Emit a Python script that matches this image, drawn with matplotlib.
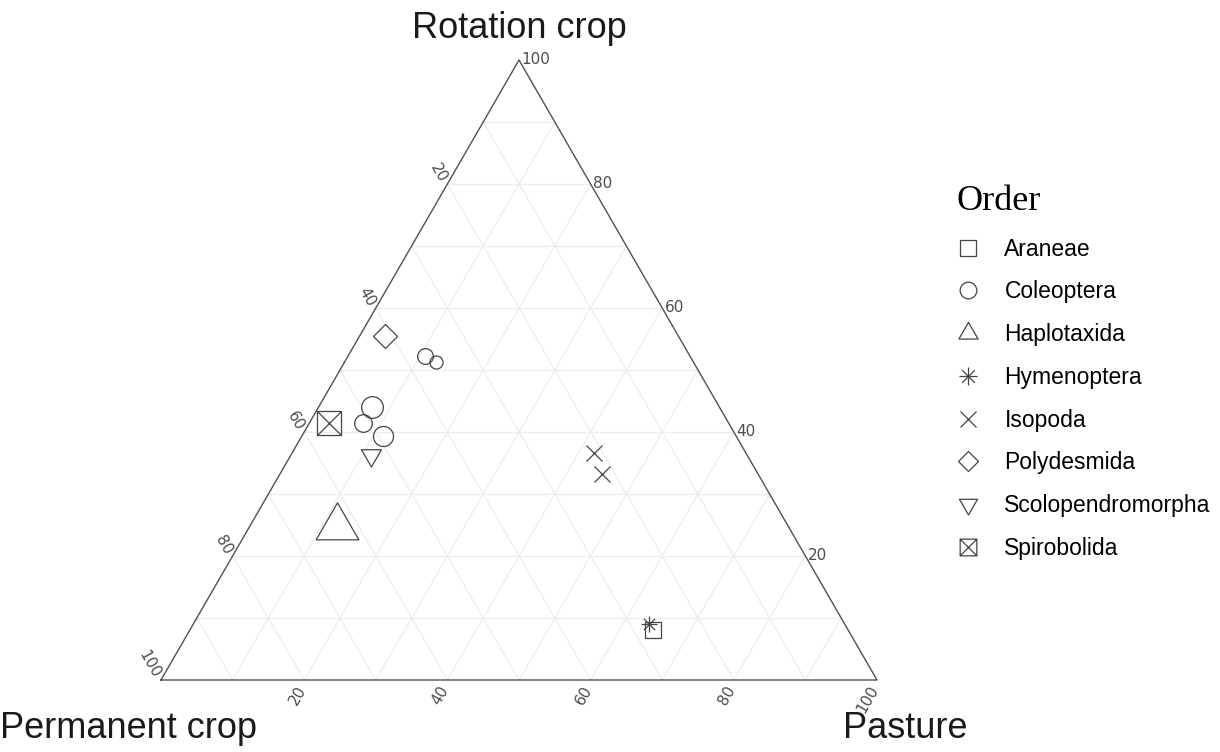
import numpy as np
import matplotlib
matplotlib.use("Agg")
import matplotlib.pyplot as plt
from matplotlib.path import Path
from matplotlib.lines import Line2D

# data: order of each point, rotation crop %, pasture % (permanent crop = rest)
orders = ["Araneae", "Coleoptera", "Haplotaxida", "Hymenoptera", "Isopoda",
          "Polydesmida", "Scolopendromorpha", "Spirobolida"]
point_order = ["Araneae", "Coleoptera", "Coleoptera", "Coleoptera", "Coleoptera",
               "Coleoptera", "Haplotaxida", "Hymenoptera", "Isopoda", "Isopoda",
               "Polydesmida", "Scolopendromorpha", "Spirobolida"]
rotation = [8.1, 52.2, 51.3, 44.1, 41.4, 39.3, 24.6, 9.0, 36.6, 33.3, 55.5, 36.3, 41.4]
pasture = [64.6, 10.8, 12.7, 7.4, 7.5, 11.3, 12.3, 63.7, 42.2, 45.0, 3.5, 11.2, 2.8]
# point size (pt)
marker_size = [11.3, 11.3, 9.4, 15.6, 12.7, 14.4, 35.5, 11.5, 12.2, 12.2, 12.7, 16.6, 17.3]

ticks = [20, 40, 60, 80, 100]

S3 = np.sqrt(3) / 2


def tern(r, p):
    r = np.asarray(r, float) / 100
    p = np.asarray(p, float) / 100
    return p + r / 2, r * S3


# marker shapes
MV, LT, CL = Path.MOVETO, Path.LINETO, Path.CLOSEPOLY
sq = [(-1, -1), (1, -1), (1, 1), (-1, 1), (-1, -1)]
boxx = Path(sq + [(-1, -1), (1, 1), (-1, 1), (1, -1)],
            [MV, LT, LT, LT, CL, MV, LT, MV, LT])
d = 0.707
aster = Path([(-1, 0), (1, 0), (0, -1), (0, 1), (-d, -d), (d, d), (-d, d), (d, -d)],
             [MV, LT, MV, LT, MV, LT, MV, LT])
tri_up = Path([(0, 1), (-0.866, -0.5), (0.866, -0.5), (0, 1)], [MV, LT, LT, CL])
tri_dn = Path([(0, -1), (-0.866, 0.5), (0.866, 0.5), (0, -1)], [MV, LT, LT, CL])
shapes = {"Araneae": "s", "Coleoptera": "o", "Haplotaxida": tri_up,
          "Hymenoptera": aster, "Isopoda": "x", "Polydesmida": "D",
          "Scolopendromorpha": tri_dn, "Spirobolida": boxx}
leg_size = {"Araneae": 12, "Coleoptera": 12, "Haplotaxida": 16, "Hymenoptera": 13,
            "Isopoda": 12, "Polydesmida": 10, "Scolopendromorpha": 15, "Spirobolida": 12}

W, H = 1220, 752
fig = plt.figure(figsize=(W / 100, H / 100), dpi=100)
ax = fig.add_axes([161 / W, 72 / H, 716 / W, 620 / H])
ax.set_xlim(0, 1)
ax.set_ylim(0, S3)
ax.axis("off")

grid_c = "#ededed"
for k in range(10, 100, 10):
    ax.plot(*tern([k, k], [0, 100 - k]), color=grid_c, lw=0.9, zorder=1)
    ax.plot(*tern([0, 100 - k], [k, k]), color=grid_c, lw=0.9, zorder=1)
    ax.plot(*tern([0, 100 - k], [100 - k, 0]), color=grid_c, lw=0.9, zorder=1)

ax.plot(*tern([0, 0, 100, 0], [0, 100, 0, 0]), color="#505050", lw=1.0, zorder=2,
        clip_on=False)

tick_c = "#4d4d4d"
tick_fs = 11
for t in ticks:
    # rotation crop on right edge
    ax.annotate(str(t), tern(t, 100 - t), xytext=(2, 0), textcoords="offset points",
                ha="left", va="center", fontsize=tick_fs, color=tick_c)
    # pasture along bottom
    ax.annotate(str(t), tern(0, t), xytext=(-1.5, -5), textcoords="offset points",
                ha="right", va="center", rotation=60, rotation_mode="anchor",
                fontsize=tick_fs, color=tick_c)
    # permanent crop along left edge
    ax.annotate(str(t), tern(100 - t, 0), xytext=(-3, 2), textcoords="offset points",
                ha="right", va="center", rotation=-60, rotation_mode="anchor",
                fontsize=tick_fs, color=tick_c)

pt_c = "#444444"
for o, r, p, s in zip(point_order, rotation, pasture, marker_size):
    x, y = tern(r, p)
    ax.plot([x], [y], marker=shapes[o], ms=s, mfc="none", mec=pt_c, mew=0.9,
            ls="none", zorder=3, clip_on=False)

txt_c = "#1a1a1a"
fig.text(519 / W, 1 - 38 / H, "Rotation crop", ha="center", va="baseline",
         fontsize=26, family="Liberation Sans", color=txt_c)
fig.text(0, 1 - 738 / H, "Permanent crop", ha="left", va="baseline",
         fontsize=26, family="Liberation Sans", color=txt_c)
fig.text(843 / W, 1 - 738 / H, "Pasture", ha="left", va="baseline",
         fontsize=26, family="Liberation Sans", color=txt_c)

handles = [Line2D([], [], marker=shapes[o], ms=leg_size[o], mfc="none", mec=pt_c,
                  mew=0.9, ls="none") for o in orders]
leg = fig.legend(handles, orders, loc="upper left", bbox_to_anchor=(957 / W, 1 - 185 / H),
                 frameon=False, prop={"family": "Liberation Sans", "size": 16.5},
                 title="Order", title_fontproperties={"family": "Liberation Serif", "size": 26},
                 alignment="left", handlelength=1.0, handletextpad=1.07,
                 labelspacing=0.86, borderpad=0, borderaxespad=0)

fig.savefig("out.png", dpi=100)
